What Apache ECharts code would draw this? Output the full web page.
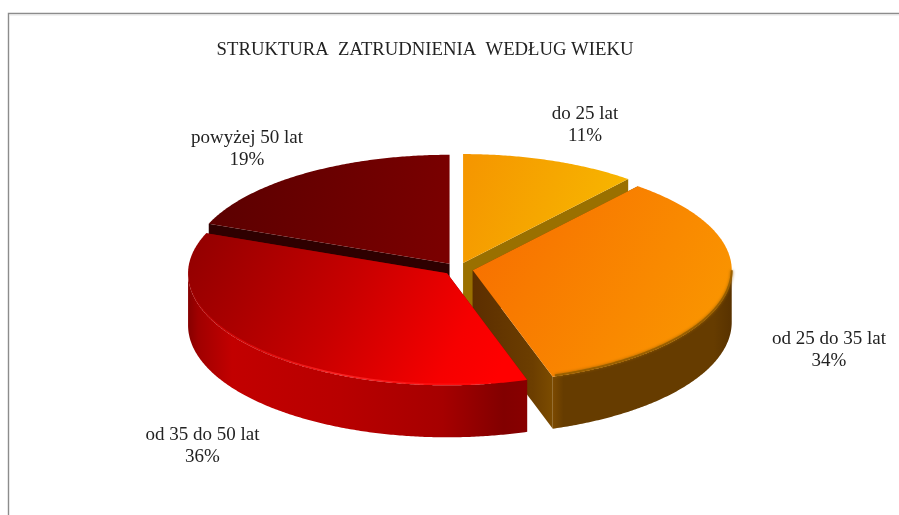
<!DOCTYPE html>
<html>
<head>
<meta charset="utf-8">
<style>html,body{margin:0;padding:0;background:#fff}#c{width:899px;height:515px}</style>
<script src="https://cdn.jsdelivr.net/npm/echarts@6/dist/echarts.min.js"></script>
</head>
<body>
<div id="c"></div>
<script>
const titleText = 'STRUKTURA  ZATRUDNIENIA  WEDŁUG WIEKU';
const categories = ['do 25 lat', 'od 25 do 35 lat', 'od 35 do 50 lat', 'powyżej 50 lat'];
const values = [11, 34, 36, 19];

// Layout and styling of the drawn pie (not data)
const FONT = '"Liberation Serif", "Times New Roman", serif';
const geo = { cx: 458, cy: 269, rx: 259, ryFar: 109, ryNear: 112, depth: 52, explode: 15, tilt: 0.42 };
const labelAnchors = [[585, 125], [829, 350], [202.5, 446], [247, 149]];
const paintOrder = [1, 2, 3, 1];
const grad = (x2, y2, stops) => ({
  type: 'linear', x: 0, y: 0, x2, y2,
  colorStops: stops.map(([offset, color]) => ({ offset, color }))
});
const looks = [
  { top: grad(1, 0.6, [[0, '#f59500'], [0.55, '#f6a800'], [1, '#f8b800']]), side: '#9a7000' },
  { top: grad(1, 0.8, [[0, '#f76c00'], [1, '#fa9800']]), side: grad(1, 0, [[0, '#5c2e00'], [0.75, '#6c3e00'], [1, '#7c4c00']]),
    wall: grad(1, 0, [[0, '#7c4a00'], [0.06, '#663c00'], [0.9, '#663c00'], [1, '#583200']]), edge: '#9a6000', edgeWidth: 2, blur: 3 },
  { top: grad(0.9, 1, [[0, '#900000'], [0.5, '#c80000'], [0.85, '#f60000'], [1, '#ff0000']]), side: '#800000',
    wall: grad(1, 0, [[0, '#860000'], [0.03, '#a00000'], [0.13, '#c20000'], [0.45, '#b80000'], [0.75, '#a60000'], [0.93, '#820000'], [1, '#880000']]),
    edge: grad(1, 0, [[0, 'rgba(240,10,10,0)'], [0.12, 'rgba(240,10,10,0.5)'], [0.45, 'rgba(255,40,40,0.9)'], [0.8, 'rgba(255,20,20,0.6)'], [1, 'rgba(255,0,0,0)']]), edgeWidth: 1.5, blur: 0 },
  { top: grad(1, 0.4, [[0, '#5a0000'], [1, '#7a0000']]), side: '#2e0000' }
];

const total = values.reduce((a, b) => a + b, 0);
const spans = [];
values.reduce((acc, v) => { spans.push([acc, acc + v / total * 360]); return acc + v / total * 360; }, 0);

const rad = d => d * Math.PI / 180;

function sliceCentre(i) {
  const mid = rad((spans[i][0] + spans[i][1]) / 2);
  return [geo.cx + geo.explode * Math.sin(mid), geo.cy - geo.explode * geo.tilt * Math.cos(mid)];
}
function rim(c, deg, drop) {
  const a = rad(deg), k = Math.cos(a);
  return [c[0] + geo.rx * Math.sin(a), c[1] - (k >= 0 ? geo.ryFar : geo.ryNear) * k + (drop || 0)];
}
function arc(c, from, to, drop) {
  const pts = [], n = Math.max(2, Math.ceil((to - from) * 2));
  for (let j = 0; j <= n; j++) pts.push(rim(c, from + (to - from) * j / n, drop));
  return pts;
}

function renderSlice(params) {
  const i = params.dataIndex, c = sliceCentre(i), [from, to] = spans[i], look = looks[i], z2 = paintOrder[i];
  const kids = [];
  const quad = (p, q, fill) => kids.push({
    type: 'polygon', z2, silent: true,
    shape: { points: [p, q, [q[0], q[1] + geo.depth], [p[0], p[1] + geo.depth]] },
    style: { fill }
  });
  // radial cut faces
  quad(c, rim(c, from), look.side);
  quad(c, rim(c, to), look.side);
  // outer wall: only the near half of the rim is seen
  const a = Math.max(from, 90), b = Math.min(to, 270);
  if (b > a) {
    kids.push({
      type: 'polygon', z2, silent: true,
      shape: { points: arc(c, a, b).concat(arc(c, a, b, geo.depth).reverse()) },
      style: { fill: look.wall }
    });
  }
  kids.push({
    type: 'polygon', z2, silent: true,
    shape: { points: [c].concat(arc(c, from, to)) },
    style: { fill: look.top }
  });
  if (b > a && look.edge) {
    kids.push({
      type: 'polyline', z2, silent: true,
      shape: { points: arc(c, a + 0.5, b - 0.5, -1) },
      style: { fill: 'none', stroke: look.edge, lineWidth: look.edgeWidth, shadowBlur: look.blur, shadowColor: '#9a6000' }
    });
  }
  kids.push({
    type: 'text', z2: 9, silent: true,
    style: {
      x: labelAnchors[i][0], y: labelAnchors[i][1],
      text: categories[i] + '\n' + values[i] + '%',
      align: 'center', verticalAlign: 'middle',
      font: '19px ' + FONT, lineHeight: 22.5, fill: '#222222'
    }
  });
  return { type: 'group', children: kids };
}

const chart = echarts.init(document.getElementById('c'), null, { renderer: 'canvas' });
chart.setOption({
  animation: false,
  backgroundColor: '#ffffff',
  title: {
    text: titleText, left: 420, top: 36, textAlign: 'center',
    textStyle: { fontFamily: FONT, fontSize: 18.7, fontWeight: 'normal', color: '#222222' }
  },
  tooltip: { show: false },
  graphic: [
    { type: 'polyline', silent: true, shape: { points: [[8.5, 515], [8.5, 13.5], [899, 13.5]] }, style: { fill: 'none', stroke: '#8c8c8c', lineWidth: 1.4 } },
    { type: 'line', silent: true, shape: { x1: 9.5, y1: 15, x2: 899, y2: 15 }, style: { stroke: '#e4e4e4', lineWidth: 1 } }
  ],
  series: [{
    type: 'custom',
    coordinateSystem: 'none',
    silent: true,
    data: values,
    renderItem: renderSlice
  }]
});
</script>
</body>
</html>
